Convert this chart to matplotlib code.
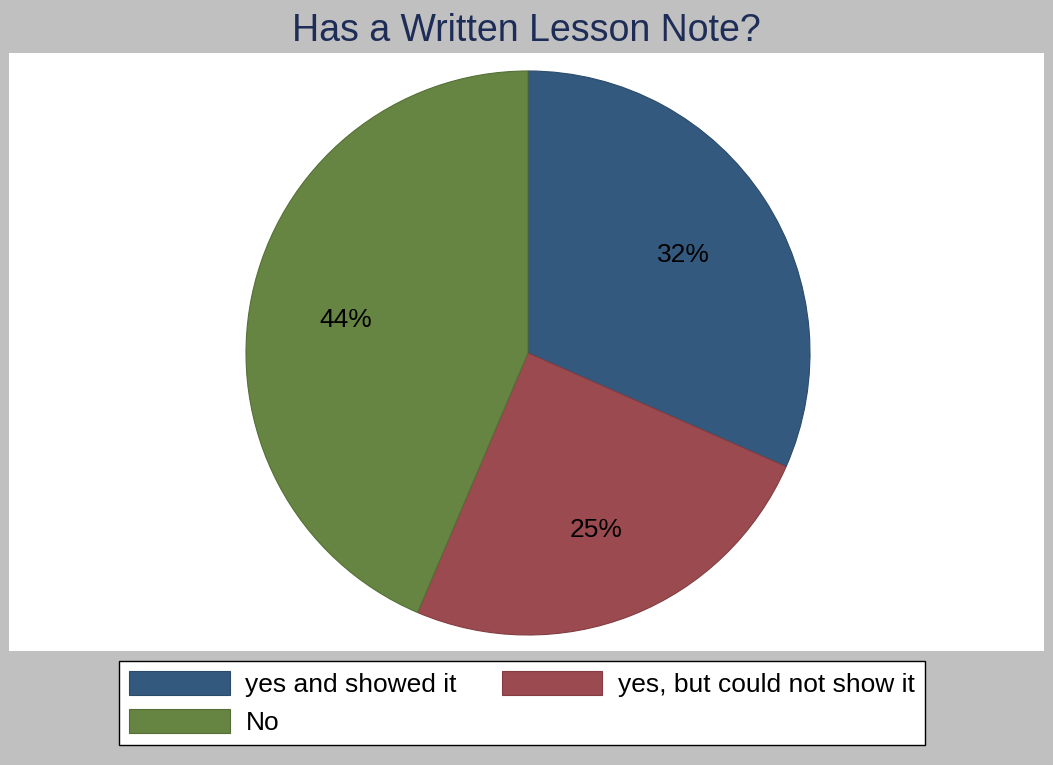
import matplotlib
matplotlib.use('Agg')
import numpy as np
import matplotlib.pyplot as plt
from matplotlib.patches import Rectangle, Patch

plt.rcParams['font.family'] = ['Liberation Sans', 'DejaVu Sans']

# data (shares in percent, labels are the rounded values)
categories = ['yes and showed it', 'yes, but could not show it', 'No']
shares = [31.6, 24.8, 43.6]
pct_labels = ['32%', '25%', '44%']
colors = ['#335a7e', '#9b4a4f', '#668442']
edge_colors = ['#2a4b69', '#833d42', '#556f37']

W, H = 1053, 765
fig = plt.figure(figsize=(W / 100, H / 100), dpi=100)
fig.patch.set_facecolor('#c0c0c0')

# white plot region
fig.patches.append(Rectangle((9 / W, 1 - 651 / H), 1035 / W, 598 / H,
                             transform=fig.transFigure, facecolor='white',
                             edgecolor='none', zorder=-5))

fig.text(0.5, 1 - 31 / H, 'Has a Written Lesson Note?', ha='center', va='center',
         fontsize=27, color='#1e2d57')

# pie axis, centre (528, 353) px, radius 282 px
cx, cy, r = 528, 353, 282
ax = fig.add_axes([(cx - r) / W, (H - cy - r) / H, 2 * r / W, 2 * r / H])
ax.set_zorder(2)
wedges, _ = ax.pie(shares, colors=colors, startangle=90, counterclock=False,
                   radius=1, wedgeprops=dict(linewidth=0.8))
for w, ec in zip(wedges, edge_colors):
    w.set_edgecolor(ec)

start = 90.0
total = sum(shares)
for s, lab in zip(shares, pct_labels):
    mid = np.deg2rad(start - 360 * s / total / 2)
    ax.text(0.66 * np.cos(mid), 0.66 * np.sin(mid) - 0.014, lab, ha='center', va='center',
            fontsize=19, color='black')
    start -= 360 * s / total
ax.set_xlim(-1, 1)
ax.set_ylim(-1, 1)
ax.set_aspect('equal')
ax.axis('off')

# legend, filled row-wise like the original
handles = [Patch(facecolor=c, edgecolor=ec, linewidth=0.8) for c, ec in zip(colors, edge_colors)]
order = [0, 2, 1]
leg = fig.legend([handles[i] for i in order], [categories[i] for i in order],
                 ncol=2, loc='center', bbox_to_anchor=(522 / W, 1 - 703 / H),
                 fontsize=19, frameon=True, fancybox=False, edgecolor='black',
                 facecolor='white', framealpha=1,
                 handlelength=3.8, handleheight=1.02, handletextpad=0.6,
                 columnspacing=1.7, labelspacing=0.42, borderpad=0.4)
leg.get_frame().set_linewidth(1.0)

fig.savefig('out.png', dpi=100, facecolor=fig.get_facecolor())
